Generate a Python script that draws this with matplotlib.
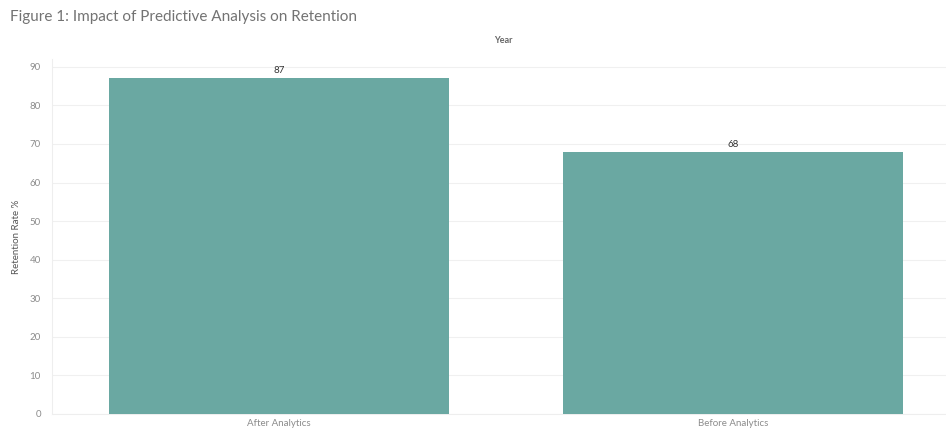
import matplotlib.pyplot as plt

categories = ["After Analytics", "Before Analytics"]
retention = [87, 68]
y_ticks = [0, 10, 20, 30, 40, 50, 60, 70, 80, 90]

plt.rcParams['font.family'] = ['Lato', 'DejaVu Sans']

fig = plt.figure(figsize=(9.46, 4.32), dpi=100)
ax = fig.add_axes([0.055, 0.042, 0.945, 0.821])

x = list(range(len(categories)))
bars = ax.bar(x, retention, width=0.75, color='#6aa8a2', zorder=3)

for xi, v in zip(x, retention):
    ax.text(xi, v + 0.8, str(v), ha='center', va='bottom', fontsize=7, color='#333333')

ax.set_xlim(-0.5, 1.469)
ax.set_ylim(0, 92)
ax.set_yticks(y_ticks)
ax.set_xticks(x)
ax.set_xticklabels(categories)
ax.tick_params(axis='both', length=0, labelsize=7, labelcolor='#8c8c8c')
ax.tick_params(axis='y', pad=8)
ax.tick_params(axis='x', pad=4)
ax.yaxis.grid(True, color='#f0f0f0', linewidth=0.8, zorder=0)

for s in ['top', 'right']:
    ax.spines[s].set_visible(False)
ax.spines['left'].set_color('#eeeeee')
ax.spines['bottom'].set_color('#eeeeee')

ax.set_ylabel('Retention Rate %', fontsize=7, color='#555555', labelpad=6)

fig.text(0.011, 0.96, 'Figure 1: Impact of Predictive Analysis on Retention',
         fontsize=11, color='#737373', ha='left', va='center')
fig.text(0.532, 0.907, 'Year', fontsize=6.5, color='#666666', fontweight='bold',
         ha='center', va='center')

fig.savefig('out.png', dpi=100)
